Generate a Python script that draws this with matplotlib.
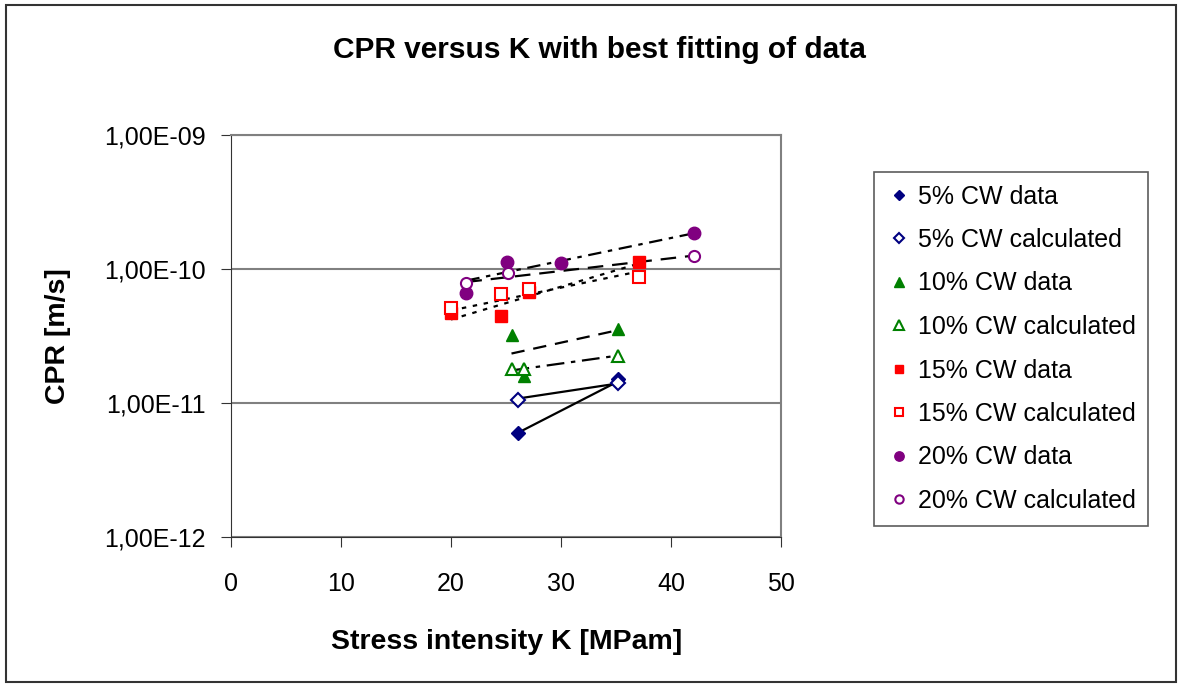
import numpy as np
import matplotlib.pyplot as plt
from matplotlib.ticker import FixedLocator, FuncFormatter
from matplotlib.patches import Rectangle

plt.rcParams['font.family'] = ['Liberation Sans', 'DejaVu Sans']

# ---- data ----
k5_data = [26.1, 35.2]
cpr5_data = [6.0e-12, 1.5e-11]
k5_calc = [26.1, 35.2]
cpr5_calc = [1.06e-11, 1.4e-11]

k10_data = [25.5, 26.6, 35.2]
cpr10_data = [3.2e-11, 1.6e-11, 3.54e-11]
k10_calc = [25.5, 26.6, 35.2]
cpr10_calc = [1.78e-11, 1.78e-11, 2.26e-11]

k15_data = [20.0, 24.5, 27.1, 37.1]
cpr15_data = [4.66e-11, 4.43e-11, 6.7e-11, 1.12e-10]
k15_calc = [20.0, 24.5, 27.1, 37.1]
cpr15_calc = [5.08e-11, 6.47e-11, 7.05e-11, 8.67e-11]

k20_data = [21.4, 25.1, 30.0, 42.1]
cpr20_data = [6.58e-11, 1.12e-10, 1.1e-10, 1.85e-10]
k20_calc = [21.4, 25.2, 42.1]
cpr20_calc = [7.9e-11, 9.4e-11, 1.26e-10]

# best-fit trend lines (end points)
fit5_data_k, fit5_data_c = [26.1, 35.2], [6.0e-12, 1.45e-11]
fit5_calc_k, fit5_calc_c = [26.1, 35.2], [1.08e-11, 1.4e-11]
fit10_data_k, fit10_data_c = [25.5, 35.2], [2.34e-11, 3.5e-11]
fit10_calc_k, fit10_calc_c = [25.5, 35.2], [1.75e-11, 2.26e-11]
fit15_data_k, fit15_data_c = [20.0, 37.1], [4.2e-11, 1.1e-10]
fit15_calc_k, fit15_calc_c = [20.0, 37.1], [4.9e-11, 9.6e-11]
fit20_data_k, fit20_data_c = [21.4, 42.1], [8.2e-11, 1.85e-10]
fit20_calc_k, fit20_calc_c = [21.4, 42.1], [8.0e-11, 1.26e-10]

yticks = [1e-12, 1e-11, 1e-10, 1e-9]
ytick_labels = ['1,00E-12', '1,00E-11', '1,00E-10', '1,00E-09']

fig = plt.figure(figsize=(11.78, 6.84), dpi=100)
ax = fig.add_axes([231 / 1178, 1 - 537 / 684, 550 / 1178, 402 / 684])

# outer border
fig.patches.append(Rectangle((6 / 1178, 2 / 684), 1170 / 1178, 677 / 684,
                             transform=fig.transFigure, fill=False,
                             edgecolor='#333333', linewidth=1.5))

# trend lines
lk = dict(color='black', linewidth=1.6, zorder=2)
ax.plot(fit5_data_k, fit5_data_c, linestyle='-', **lk)
ax.plot(fit5_calc_k, fit5_calc_c, linestyle='-', **lk)
ax.plot(fit10_data_k, fit10_data_c, linestyle=(0, (6, 4)), **lk)
ax.plot(fit10_calc_k, fit10_calc_c, linestyle=(0, (8, 3, 2, 3)), **lk)
ax.plot(fit15_data_k, fit15_data_c, linestyle=(0, (2, 3)), **lk)
ax.plot(fit15_calc_k, fit15_calc_c, linestyle=(0, (2, 3)), **lk)
ax.plot(fit20_data_k, fit20_data_c, linestyle=(0, (6, 3, 2, 3)), **lk)
ax.plot(fit20_calc_k, fit20_calc_c, linestyle=(0, (7, 4)), **lk)

navy, green, red, purple = '#000080', '#008000', '#ff0000', '#800080'
ms = 8
ax.plot(k5_data, cpr5_data, 'D', color=navy, ms=ms - 1, ls='none', label='5% CW data', zorder=3)
ax.plot(k5_calc, cpr5_calc, 'D', mfc='white', mec=navy, mew=1.5, ms=ms - 1, ls='none',
        label='5% CW calculated', zorder=3)
ax.plot(k10_data, cpr10_data, '^', color=green, ms=ms + 1, ls='none', label='10% CW data', zorder=3)
ax.plot(k10_calc, cpr10_calc, '^', mfc='white', mec=green, mew=1.5, ms=ms + 1, ls='none',
        label='10% CW calculated', zorder=3)
ax.plot(k15_data, cpr15_data, 's', color=red, ms=ms, ls='none', label='15% CW data', zorder=3)
ax.plot(k15_calc, cpr15_calc, 's', mfc='white', mec=red, mew=1.5, ms=ms, ls='none',
        label='15% CW calculated', zorder=3)
ax.plot(k20_data, cpr20_data, 'o', color=purple, ms=ms + 1, ls='none', label='20% CW data', zorder=3)
ax.plot(k20_calc, cpr20_calc, 'o', mfc='white', mec=purple, mew=1.5, ms=ms, ls='none',
        label='20% CW calculated', zorder=3)

ax.set_yscale('log')
ax.set_ylim(1e-12, 1e-9)
ax.set_xlim(0, 50)
ax.set_xticks([0, 10, 20, 30, 40, 50])
ax.yaxis.set_major_locator(FixedLocator(yticks))
ax.yaxis.set_minor_locator(FixedLocator([]))
ax.yaxis.set_major_formatter(FuncFormatter(lambda v, p: ytick_labels[yticks.index(v)] if v in yticks else ''))
ax.grid(axis='y', color='#808080', linewidth=1.5)
ax.set_axisbelow(True)

ax.spines['top'].set_color('#808080')
ax.spines['right'].set_color('#808080')
ax.spines['top'].set_linewidth(1.5)
ax.spines['right'].set_linewidth(1.5)
ax.spines['left'].set_color('#333333')
ax.spines['bottom'].set_color('#333333')
ax.tick_params(direction='out', length=7.5, color='#333333', labelsize=18)
ax.tick_params(axis='x', pad=18)
ax.tick_params(axis='y', pad=11)

ax.set_xlabel('Stress intensity K [MPam]', fontsize=20.5, fontweight='bold', va='center')
ax.xaxis.set_label_coords(0.502, -0.261)
ax.set_ylabel('CPR [m/s]', fontsize=20.5, fontweight='bold', va='center')
ax.yaxis.set_label_coords(-0.3145, 0.5)
fig.text(599 / 1178, 1 - 50 / 684, 'CPR versus K with best fitting of data',
         ha='center', va='center', fontsize=21.5, fontweight='bold')

leg = fig.legend(loc='upper left', bbox_to_anchor=(874 / 1178, 1 - 172 / 684),
                 fontsize=18, frameon=True, fancybox=False, edgecolor='#333333',
                 handlelength=1.0, handletextpad=0.25, labelspacing=0.78,
                 borderpad=0.5, borderaxespad=0, markerscale=0.75)
leg.get_frame().set_linewidth(1.2)

fig.savefig('out.png', dpi=100)
